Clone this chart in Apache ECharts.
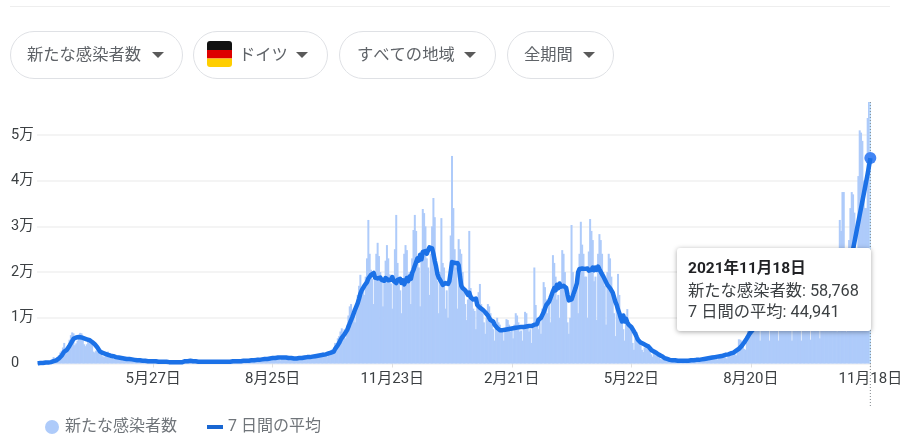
<!DOCTYPE html>
<html><head><meta charset="utf-8">
<style>html,body{margin:0;padding:0;background:#fff}#c{width:911px;height:446px}</style>
<script src="https://cdn.jsdelivr.net/npm/echarts@6/dist/echarts.min.js"></script>
</head><body><div id="c"></div>
<script>
// Daily values in hundreds of cases, one row per week, from Sunday 2020-03-01
const dailyCases = [
1,1,1,1,2,2,2,
2,3,3,4,8,14,9,
12,14,18,24,28,35,45,
30,32,40,52,62,68,66,
40,44,50,62,67,66,60,
42,38,42,52,56,54,48,
26,24,28,34,34,30,28,
16,14,18,24,26,22,20,
12,10,13,16,18,16,14,
8,7,9,12,12,11,10,
6,6,7,9,9,8,7,
5,4,6,7,7,6,5,
4,3,5,6,6,5,4,
3,2,4,5,5,4,3,
3,2,3,4,4,4,3,
2,2,2,3,5,7,7,
6,4,5,5,6,5,4,
3,3,4,5,5,4,3,
3,2,3,4,5,4,3,
3,3,4,4,5,4,3,
3,3,4,5,5,5,4,
3,4,5,6,7,6,5,
4,4,6,7,8,8,6,
5,5,8,9,10,10,8,
6,6,9,11,13,12,10,
8,7,12,13,15,14,11,
8,7,12,14,15,14,12,
8,7,11,13,14,13,11,
8,9,12,14,16,15,12,
10,10,13,17,19,19,15,
12,12,16,20,23,24,20,
16,14,19,25,29,32,25,
45,35,55,60,70,77,60,
75,55,85,105,125,130,105,
120,90,130,150,170,194,160,
170,150,190,230,314,240,205,
185,130,200,240,264,235,200,
180,125,190,225,259,230,195,
175,120,190,250,325,220,190,
160,110,170,240,259,248,180,
200,130,230,292,325,290,220,
210,125,240,338,329,300,230,
210,150,240,300,362,320,200,
180,110,200,318,220,210,120,
160,100,180,280,454,340,250,
210,120,272,250,240,200,160,
130,95,140,290,165,150,120,
115,75,130,156,174,130,110,
90,65,100,130,125,110,90,
75,50,80,100,90,85,70,
70,50,75,97,95,85,70,
75,55,85,110,105,90,70,
72,50,80,113,110,85,70,
75,45,85,210,128,100,75,
100,65,120,178,167,140,110,
130,90,150,237,220,190,140,
150,100,170,248,240,200,170,
90,65,100,303,200,170,150,
190,110,240,310,260,240,190,
190,100,245,316,290,270,180,
190,95,240,283,270,240,200,
170,85,200,240,230,190,150,
110,60,130,196,150,110,90,
75,50,90,119,85,80,70,
45,30,55,69,55,50,40,
30,25,35,40,38,35,28,
20,15,25,30,28,25,20,
10,9,13,13,12,11,9,
6,6,8,8,8,7,6,
5,5,6,7,7,6,5,
5,4,6,7,8,7,6,
6,5,8,10,11,10,8,
9,7,11,14,15,15,12,
11,9,15,18,20,19,16,
13,11,20,25,27,26,22,
20,18,35,53,52,50,40,
32,30,60,85,80,78,65,
75,75,90,115,130,50,100,
90,85,120,125,130,50,100,
90,85,110,130,130,50,95,
85,80,100,115,115,105,90,
75,50,90,105,110,100,85,
80,50,95,105,110,100,85,
80,52,100,110,120,110,90,
90,55,130,135,150,140,110,
120,85,180,190,200,190,150,
70,120,314,290,375,375,200,
70,190,270,340,375,370,330,
250,240,410,510,505,487,400,
340,340,537,575,587.68
];
const weeklyAverage = [
0,1,1,1,1,1,2,
2,2,2,3,3,5,6,
7,9,11,14,17,21,26,
28,30,34,39,44,49,54,
56,57,58,58,58,57,56,
55,54,53,52,51,49,47,
45,42,39,35,31,26,24,
23,22,21,20,19,18,17,
17,16,15,14,14,13,13,
12,12,11,11,10,10,10,
9,9,8,8,8,7,7,
7,7,6,6,6,6,5,
5,5,5,5,5,5,4,
4,4,4,4,4,4,4,
4,3,3,3,3,3,3,
3,3,3,3,3,4,5,
5,5,6,6,5,5,5,
5,5,4,4,4,4,4,
4,4,4,4,4,4,4,
4,4,4,4,4,4,4,
4,4,4,4,4,4,5,
5,5,5,5,5,5,5,
5,6,6,6,6,6,6,
7,7,7,8,8,8,8,
9,9,9,10,10,10,10,
11,11,12,12,12,13,13,
13,13,13,13,13,13,13,
12,12,12,12,11,11,11,
12,12,12,12,13,13,13,
14,14,14,15,15,16,16,
17,17,18,18,19,19,20,
20,21,22,23,24,25,26,
32,36,40,45,51,56,60,
64,68,73,80,88,95,102,
110,118,125,132,142,153,160,
165,170,172,178,186,190,194,
190,198,188,190,186,190,188,
183,186,181,187,184,182,186,
183,189,181,184,176,183,181,
185,176,182,173,170,187,180,
190,185,198,205,214,222,230,
225,238,228,244,240,246,240,
248,254,256,252,240,225,212,
196,188,183,178,172,174,176,
172,174,180,200,222,224,220,
222,220,215,190,170,165,168,
160,162,150,155,145,148,140,
138,142,128,130,122,125,118,
118,112,112,105,100,95,97,
92,85,88,78,75,73,73,
73,73,74,74,75,75,76,
76,77,77,78,78,79,79,
80,80,80,81,81,81,82,
82,82,82,85,88,86,95,
92,100,106,112,120,128,125,
135,142,150,158,165,160,172,
165,175,168,172,170,168,165,
150,138,135,140,148,152,165,
175,200,207,206,208,205,207,
204,208,203,207,205,210,204,
210,205,212,206,208,195,190,
188,178,172,170,165,160,155,
145,135,128,118,110,100,92,
105,92,98,90,85,82,80,
76,70,65,58,52,48,46,
44,43,42,40,41,37,33,
30,28,26,24,23,21,19,
18,16,14,12,11,10,9,
8,8,7,7,7,6,6,
6,6,6,6,6,6,6,
6,6,7,7,7,7,8,
8,8,9,9,10,10,10,
11,12,12,13,13,14,14,
15,15,16,16,17,17,18,
19,19,20,21,22,23,24,
26,28,29,32,35,38,42,
46,50,55,60,65,68,72,
76,82,88,92,98,104,108,
110,110,108,106,105,104,102,
100,98,95,92,90,88,86,
84,83,82,82,81,81,80,
80,79,79,80,80,80,81,
82,83,84,85,86,87,88,
90,92,94,96,100,104,108,
112,118,124,130,135,140,145,
115,120,125,130,135,140,145,
148,150,152,155,158,160,162,
170,185,200,215,230,250,265,
280,295,310,325,340,355,370,
385,400,415,432,449.41
];
const seriesCases = '新たな感染者数';
const seriesAverage = '7 日間の平均';
const yTicks = {0:'0',10000:'1万',20000:'2万',30000:'3万',40000:'4万',50000:'5万'};
const filters = [
  {label:'新たな感染者数', x:10, w:172, tx:27, ax:152},
  {label:'ドイツ', x:193, w:134, tx:239, ax:296},
  {label:'すべての地域', x:339, w:156, tx:357, ax:464},
  {label:'全期間', x:507, w:106, tx:524, ax:583}
];
const categories = dailyCases.map((_, i) => {
  const d = new Date(Date.UTC(2020, 2, 1 + i));
  return d.getUTCFullYear() + '年' + (d.getUTCMonth() + 1) + '月' + d.getUTCDate() + '日';
});
const last = categories.length - 1;
const cases = dailyCases.map(v => Math.round(v * 100));
const average = weeklyAverage.map(v => Math.round(v * 100));
const font = 'Roboto, "Noto Sans CJK JP", sans-serif';
const isTick = i => (last - i) % 90 === 0;

const graphics = [{type:'rect', silent:true, shape:{x:10,y:6,width:880,height:1}, style:{fill:'#eeeeee'}}];
filters.forEach(f => {
  graphics.push({type:'rect', silent:true, shape:{x:f.x+.5,y:31.5,width:f.w,height:47,r:23.5}, style:{fill:'#fff',stroke:'#dfe1e5',lineWidth:1}});
  graphics.push({type:'text', silent:true, style:{x:f.tx,y:56,text:f.label,font:'16.3px '+font,fill:'#5f6368',verticalAlign:'middle'}});
  graphics.push({type:'polygon', silent:true, shape:{points:[[f.ax,52],[f.ax+12,52],[f.ax+6,58]]}, style:{fill:'#5a5a5a'}});
});
[['#111111',41],['#dd0000',50],['#ffce00',58.5]].forEach(s => {
  graphics.push({type:'rect', silent:true, shape:{x:207,y:s[1],width:25,height:s[1]===41?9:8.5,r:s[1]===41?[3,3,0,0]:(s[1]===58.5?[0,0,3,3]:0)}, style:{fill:s[0]}});
});

const chart = echarts.init(document.getElementById('c'), null, {renderer:'canvas'});
chart.setOption({
  animation:false,
  textStyle:{fontFamily:font},
  grid:{left:37,right:40,top:102,bottom:82.5,containLabel:false},
  legend:{
    left:40, top:414, itemWidth:16, itemHeight:14, itemGap:30,
    selectedMode:false,
    textStyle:{color:'#70757a',fontSize:16,fontFamily:font,padding:[0,0,0,0]},
    data:[{name:seriesCases,icon:'circle'},{name:seriesAverage,icon:'path://M0 0H16V4H0Z'}]
  },
  tooltip:{
    trigger:'axis', alwaysShowContent:true, transitionDuration:0,
    axisPointer:{type:'none'},
    position:[677,248],
    padding:[10,11],
    backgroundColor:'#fff', borderWidth:0,
    extraCssText:'width:172px;height:63px;box-sizing:content-box;border-radius:3px;box-shadow:0 1px 5px rgba(0,0,0,.35);white-space:nowrap;',
    textStyle:{color:'#3c4043',fontFamily:font,fontSize:16.3},
    formatter:ps=>{
      const i=ps[0].dataIndex, fmt=n=>n.toLocaleString('en-US');
      return '<div style="font-weight:700;font-size:15.5px;line-height:21px;color:#202124">'+categories[i]+'</div>'+
        '<div style="line-height:24px">'+seriesCases+': '+fmt(cases[i])+'</div>'+
        '<div style="line-height:18px">'+seriesAverage+': '+fmt(average[i])+'</div>';
    }
  },
  xAxis:{
    type:'category', data:categories, boundaryGap:true,
    axisLine:{show:false},
    axisTick:{show:true,alignWithLabel:true,interval:i=>isTick(i),length:4,lineStyle:{color:'#e0e0e0'}},
    axisLabel:{interval:i=>isTick(i),showMaxLabel:true,margin:8,color:'#3c4043',fontSize:15,fontFamily:font,
      formatter:v=>v.slice(v.indexOf('年')+1)},
    splitLine:{show:false}
  },
  yAxis:{
    type:'value', min:0, max:57200, interval:10000,
    axisLine:{show:false}, axisTick:{show:false},
    axisLabel:{align:'left',margin:26,color:'#3c4043',fontSize:14.5,fontFamily:font,formatter:v=>yTicks[v]||''},
    splitLine:{showMaxLine:false,lineStyle:{color:'#f1f1f1',width:1.5}}
  },
  series:[
    {name:seriesCases,type:'bar',data:cases,barWidth:2,barGap:'-100%',itemStyle:{color:'#aecbfa'},silent:true,large:false,clip:true},
    {name:seriesAverage,type:'line',data:average,symbol:'none',showSymbol:false,smooth:false,silent:true,z:5,
      lineStyle:{color:'#1967d2',width:4.5,join:'round'},itemStyle:{color:'#1967d2'},
      markPoint:{silent:true,symbol:'circle',symbolSize:12,itemStyle:{color:'#4285f4'},label:{show:false},
        data:[{coord:[categories[last],average[last]]}]}}
  ],
  graphic:graphics
});
const lx = chart.convertToPixel({xAxisIndex:0}, categories[last]);
chart.setOption({graphic:graphics.concat([{type:'line',silent:true,z:4,shape:{x1:lx,y1:102,x2:lx,y2:408},
  style:{stroke:'#80868b',lineWidth:1,lineDash:[1,2]}}])});
chart.dispatchAction({type:'showTip',seriesIndex:1,dataIndex:last});
</script></body></html>
